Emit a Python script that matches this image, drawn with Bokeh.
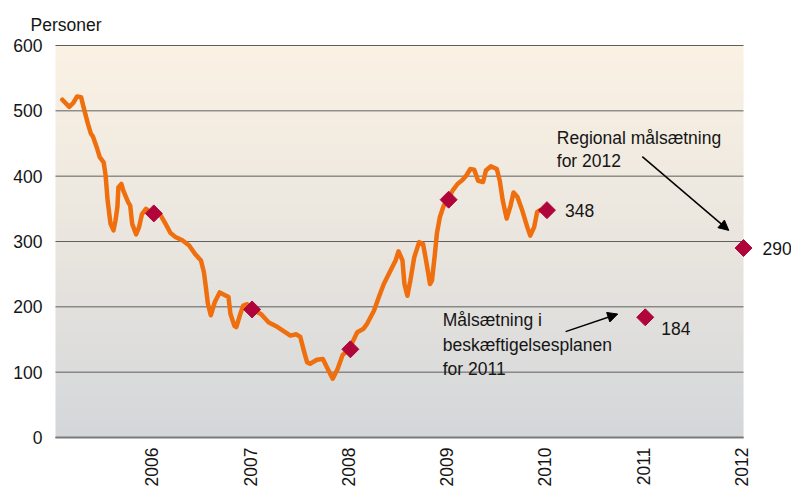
import math
import numpy as np
from bokeh.plotting import figure
from bokeh.core.properties import value
from bokeh.models import Range1d, Label, LabelSet, Arrow, NormalHead, ColumnDataSource
from bokeh.embed import file_html
from bokeh.resources import INLINE

# ---------------- data ----------------
line_x = [2005.07, 2005.14, 2005.18, 2005.22, 2005.26, 2005.29, 2005.33, 2005.36, 2005.38, 2005.42,
          2005.45, 2005.49, 2005.51, 2005.53, 2005.56, 2005.59, 2005.61, 2005.63, 2005.64, 2005.67,
          2005.69, 2005.74, 2005.76, 2005.78, 2005.82, 2005.85, 2005.88, 2005.92, 2005.98, 2006.07,
          2006.12, 2006.17, 2006.22, 2006.29, 2006.36, 2006.42, 2006.48, 2006.51, 2006.53, 2006.55,
          2006.58, 2006.62, 2006.67, 2006.71, 2006.76, 2006.78, 2006.82, 2006.84, 2006.88, 2006.91,
          2006.95, 2007.00, 2007.09, 2007.17, 2007.26, 2007.34, 2007.39, 2007.45, 2007.49, 2007.53,
          2007.56, 2007.59, 2007.66, 2007.72, 2007.76, 2007.82, 2007.87, 2007.92, 2007.99, 2008.07,
          2008.13, 2008.17, 2008.24, 2008.29, 2008.34, 2008.41, 2008.46, 2008.49, 2008.53, 2008.55,
          2008.58, 2008.61, 2008.65, 2008.70, 2008.74, 2008.77, 2008.81, 2008.83, 2008.86, 2008.88,
          2008.91, 2008.95, 2008.99, 2009.04, 2009.09, 2009.14, 2009.18, 2009.22, 2009.26, 2009.30,
          2009.35, 2009.38, 2009.43, 2009.49, 2009.52, 2009.55, 2009.59, 2009.63, 2009.66, 2009.70,
          2009.75, 2009.80, 2009.83, 2009.87, 2009.90, 2009.93, 2009.99]
line_y = [517, 506, 512, 522, 521, 503, 480, 465, 461, 444,
          429, 421, 401, 363, 327, 317, 332, 353, 383, 388,
          378, 360, 355, 327, 311, 322, 342, 350, 343, 340,
          327, 313, 307, 302, 294, 281, 271, 253, 230, 205,
          187, 207, 222, 219, 215, 189, 171, 169, 189, 202,
          204, 196, 189, 176, 169, 161, 156, 158, 154, 131,
          115, 113, 119, 120, 108, 90, 105, 126, 136, 161,
          166, 174, 194, 215, 235, 256, 271, 285, 271, 235,
          217, 240, 276, 299, 296, 271, 235, 240, 281, 312,
          337, 355, 363, 378, 388, 394, 401, 411, 410, 393,
          391, 409, 415, 411, 393, 363, 335, 355, 375, 368,
          347, 322, 309, 322, 345, 348, 349]

target_years = [2006, 2007, 2008, 2009, 2010, 2011, 2012]
target_values = [343, 196, 135, 364, 348, 184, 290]
labelled_years = [2010, 2011, 2012]

y_ticks = [0, 100, 200, 300, 400, 500, 600]
year_ticks = [2006, 2007, 2008, 2009, 2010, 2011, 2012]
y_title = "Personer"

FONT = "Liberation Sans"
FS = "17.5px"
TXT = "#151515"
X_START, X_END = 2005.0, 2012.0

# ---------------- figure: the frame covers the whole canvas ----------------
W, H = 791, 488
PX_YEAR = 98.29          # pixels per year
PX_UNIT = 392 / 600.0    # pixels per person
LEFT, TOP = 55, 45
x_lo = X_START - LEFT / PX_YEAR
x_hi = X_START + (W - LEFT) / PX_YEAR
y_hi = y_ticks[-1] + TOP / PX_UNIT
y_lo = y_ticks[-1] - (H - TOP) / PX_UNIT

p = figure(width=W, height=H, output_backend="svg", toolbar_location=None,
           x_range=Range1d(x_lo, x_hi), y_range=Range1d(y_lo, y_hi),
           min_border=0)
p.axis.visible = False
p.grid.visible = False
p.background_fill_color = "white"
p.border_fill_color = "white"
p.outline_line_color = None

# gradient background of the plot area
stops_t = [0.0, 0.5, 1.0]
stops_c = np.array([[212, 215, 218], [234, 230, 223], [251, 242, 228]], dtype=float)
n = 256
t = np.linspace(0, 1, n)
rgba = np.zeros((n, 1, 4), dtype=np.uint8)
for ch in range(3):
    rgba[:, 0, ch] = np.interp(t, stops_t, stops_c[:, ch]).astype(np.uint8)
rgba[:, 0, 3] = 255
img = rgba.view(dtype=np.uint32).reshape((n, 1))
p.image_rgba(image=[img], x=X_START, y=y_ticks[0], dw=X_END - X_START, dh=y_ticks[-1] - y_ticks[0])

# horizontal grid lines
p.segment(x0=[X_START] * len(y_ticks), y0=y_ticks, x1=[X_END] * len(y_ticks), y1=y_ticks,
          line_color="#5f5f5f", line_width=1)
p.segment(x0=[X_START], y0=[y_ticks[0]], x1=[X_END], y1=[y_ticks[0]],
          line_color="#7a7a7a", line_width=2)

# data line and targets
p.line(line_x, line_y, line_color="#EF6F0F", line_width=4.5, line_join="round", line_cap="round")
p.scatter(target_years, target_values, marker="square", angle=math.pi / 4, size=12,
          fill_color="#B0053B", line_color="#B0053B")

# tick labels
ysrc = ColumnDataSource(dict(x=[X_START] * len(y_ticks), y=y_ticks, t=[str(v) for v in y_ticks]))
p.add_layout(LabelSet(x="x", y="y", text="t", source=ysrc, x_offset=-13,
                      text_font=value(FONT), text_font_size=value(FS), text_color=TXT,
                      text_align="right", text_baseline="middle"))
xsrc = ColumnDataSource(dict(x=year_ticks, y=[y_ticks[0]] * len(year_ticks),
                             t=[str(v) for v in year_ticks]))
p.add_layout(LabelSet(x="x", y="y", text="t", source=xsrc, angle=math.pi / 2,
                      x_offset=-2, y_offset=-10,
                      text_font=value(FONT), text_font_size=value(FS), text_color=TXT,
                      text_align="right", text_baseline="middle"))

# y title
p.add_layout(Label(x=X_START, y=y_ticks[-1], text=y_title, x_offset=-25, y_offset=21,
                   text_font=FONT, text_font_size=FS, text_color=TXT,
                   text_align="left", text_baseline="middle"))

# value labels
offsets = {2010: (18, 0), 2011: (16, -11), 2012: (19, 0)}
for yr in labelled_years:
    v = target_values[target_years.index(yr)]
    dx, dy = offsets[yr]
    p.add_layout(Label(x=yr, y=v, text=str(v), x_offset=dx, y_offset=dy,
                       text_font=FONT, text_font_size=FS, text_color=TXT,
                       text_align="left", text_baseline="middle"))

# annotation texts
def add_text(x, y, s):
    p.add_layout(Label(x=x, y=y, text=s, text_font=FONT, text_font_size=FS, text_color=TXT,
                       text_align="left", text_baseline="alphabetic"))

add_text(2010.10, 458, "Regional målsætning")
add_text(2010.10, 422.5, "for 2012")
add_text(2008.94, 180.6, "Målsætning i")
add_text(2008.94, 141.9, "beskæftigelsesplanen")
add_text(2008.94, 105.2, "for 2011")

p.add_layout(Arrow(x_start=2010.97, y_start=430, x_end=2011.85, y_end=317,
                   line_color="black", line_width=1.5,
                   end=NormalHead(size=10, fill_color="black", line_color="black")))
p.add_layout(Arrow(x_start=2010.19, y_start=162, x_end=2010.72, y_end=189,
                   line_color="black", line_width=1.5,
                   end=NormalHead(size=10, fill_color="black", line_color="black")))

open("out.html", "w").write(file_html(p, INLINE))
